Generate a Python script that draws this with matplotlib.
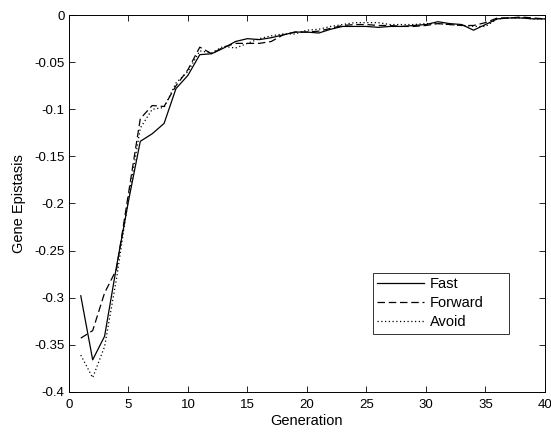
import matplotlib
matplotlib.use("Agg")
import matplotlib.pyplot as plt
import numpy as np

plt.rcParams["font.family"] = ["Liberation Sans", "DejaVu Sans"]

generations = list(range(1, 41))
fast = [-0.298, -0.366, -0.341, -0.267, -0.198, -0.134, -0.126, -0.115, -0.078, -0.064,
        -0.042, -0.041, -0.035, -0.028, -0.025, -0.026, -0.024, -0.021, -0.018, -0.018,
        -0.019, -0.015, -0.012, -0.012, -0.012, -0.013, -0.012, -0.012, -0.011, -0.010,
        -0.007, -0.009, -0.010, -0.016, -0.010, -0.004, -0.003, -0.003, -0.004, -0.004]
forward = [-0.343, -0.335, -0.295, -0.270, -0.190, -0.110, -0.096, -0.097, -0.075, -0.058,
           -0.034, -0.041, -0.034, -0.030, -0.030, -0.030, -0.028, -0.021, -0.018, -0.018,
           -0.017, -0.014, -0.011, -0.010, -0.010, -0.011, -0.011, -0.012, -0.012, -0.011,
           -0.009, -0.010, -0.011, -0.011, -0.008, -0.003, -0.003, -0.002, -0.003, -0.004]
avoid = [-0.361, -0.385, -0.352, -0.280, -0.195, -0.120, -0.100, -0.098, -0.072, -0.060,
         -0.038, -0.040, -0.033, -0.035, -0.030, -0.025, -0.022, -0.020, -0.020, -0.016,
         -0.015, -0.012, -0.010, -0.008, -0.008, -0.008, -0.010, -0.010, -0.010, -0.009,
         -0.009, -0.010, -0.011, -0.012, -0.012, -0.004, -0.003, -0.003, -0.004, -0.004]

fig = plt.figure(figsize=(5.51, 4.32), dpi=100)
ax = fig.add_axes([0.125, 0.093, 0.864, 0.872])

ax.plot(generations, fast, color="black", lw=0.9, ls="-", label="Fast")
ax.plot(generations, forward, color="black", lw=0.9, ls=(0, (6, 3)), label="Forward")
ax.plot(generations, avoid, color="black", lw=0.9, ls=(0, (1, 2)), label="Avoid")

ax.set_xlim(0, 40)
ax.set_ylim(-0.4, 0)
ax.set_xticks(np.arange(0, 41, 5))
ax.set_yticks(np.arange(-0.4, 0.001, 0.05))
ax.set_yticklabels(["-0.4", "-0.35", "-0.3", "-0.25", "-0.2", "-0.15", "-0.1", "-0.05", "0"])
ax.tick_params(direction="in", top=True, right=True, labelsize=9.5, length=4, width=0.6)
ax.tick_params(axis="x", pad=5)
ax.tick_params(axis="y", pad=3)
for spine in ax.spines.values():
    spine.set_linewidth(0.7)

ax.set_xlabel("Generation", fontsize=10.5, labelpad=2)
ax.set_ylabel("Gene Epistasis", fontsize=10.5, labelpad=6)

leg = ax.legend(loc="lower left", bbox_to_anchor=(0.638, 0.154, 0.286, 0.209), mode="expand",
                fontsize=10.5, frameon=True, fancybox=False, edgecolor="black",
                handlelength=3.2, borderaxespad=0, borderpad=0.3, labelspacing=0.35,
                handletextpad=0.4)
leg.get_frame().set_linewidth(0.7)

fig.savefig("out.png", dpi=100)
